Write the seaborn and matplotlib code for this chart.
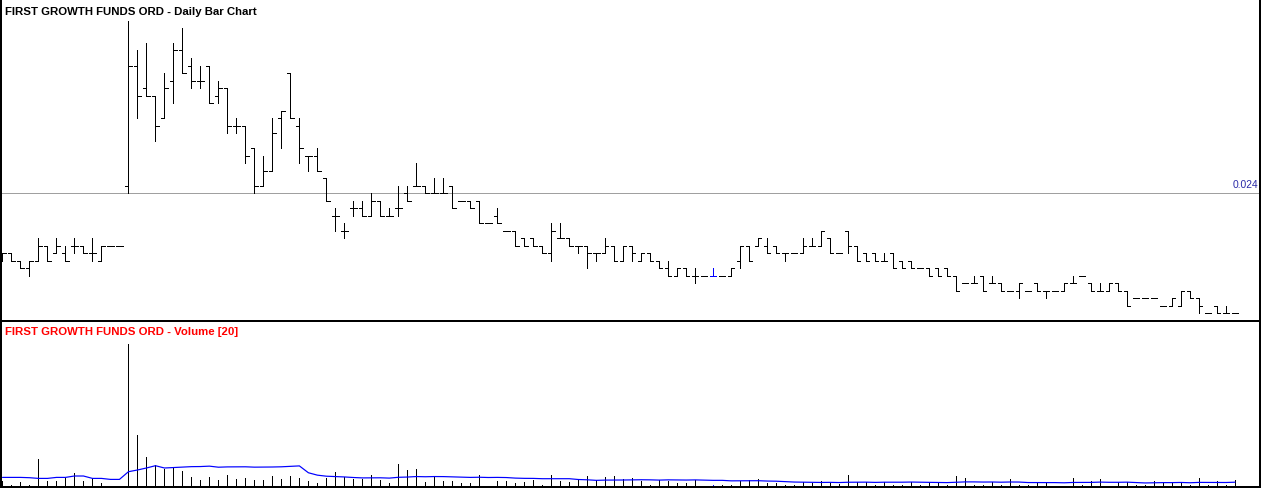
import numpy as np
import pandas as pd
import matplotlib
matplotlib.use('Agg')
import matplotlib.pyplot as plt
import seaborn as sns

# Daily OHLC prices
open_ = [0.0195, 0.020, 0.0195, 0.019, 0.0195, 0.0205, 0.020, 0.020, 0.0205, 0.0205,
         0.020, 0.0195, 0.0205, 0.0205, 0.0245, 0.0325, 0.031, 0.0305, 0.029, 0.0315,
         0.0335, 0.0325, 0.0315, 0.0325, 0.0305, 0.031, 0.0285, 0.0285, 0.027, 0.0245,
         0.0255, 0.029, 0.032, 0.0285, 0.0265, 0.0265, 0.025, 0.0225, 0.0215, 0.023,
         0.023, 0.0225, 0.0235, 0.0225, 0.023, 0.024, 0.0245, 0.0245, 0.024, 0.024,
         0.0245, 0.0235, 0.0235, 0.0235, 0.022, 0.0225, 0.0215, 0.0215, 0.021, 0.021,
         0.0205, 0.020, 0.021, 0.021, 0.0205, 0.0205, 0.020, 0.020, 0.0205, 0.0195,
         0.0205, 0.0195, 0.020, 0.0195, 0.019, 0.0185, 0.019, 0.0185, 0.0185, 0.0185,
         0.0185, 0.0185, 0.0195, 0.0205, 0.0205, 0.0205, 0.0205, 0.020, 0.020, 0.020,
         0.0205, 0.0205, 0.021, 0.020, 0.0215, 0.0205, 0.020, 0.020, 0.0195, 0.020,
         0.0195, 0.0195, 0.019, 0.019, 0.019, 0.019, 0.0185, 0.018, 0.018, 0.0185,
         0.018, 0.018, 0.0175, 0.0175, 0.0175, 0.018, 0.0175, 0.0175, 0.0175, 0.018,
         0.0185, 0.018, 0.0175, 0.0175, 0.018, 0.0175, 0.017, 0.017, 0.017, 0.0165,
         0.0165, 0.0165, 0.0175, 0.017, 0.016, 0.0165, 0.016, 0.016]
high = [0.020, 0.020, 0.0195, 0.0195, 0.021, 0.0205, 0.021, 0.0205, 0.021, 0.0205,
        0.021, 0.0205, 0.0205, 0.0205, 0.0355, 0.0335, 0.034, 0.0305, 0.032, 0.034,
        0.035, 0.033, 0.0325, 0.0325, 0.0315, 0.031, 0.029, 0.0285, 0.027, 0.0265,
        0.029, 0.0295, 0.032, 0.029, 0.0265, 0.027, 0.025, 0.023, 0.022, 0.0235,
        0.0235, 0.024, 0.0235, 0.023, 0.0245, 0.0245, 0.026, 0.0245, 0.025, 0.025,
        0.0245, 0.0235, 0.0235, 0.0235, 0.022, 0.023, 0.0215, 0.0215, 0.021, 0.021,
        0.0205, 0.022, 0.022, 0.021, 0.0205, 0.0205, 0.020, 0.021, 0.0205, 0.0205,
        0.0205, 0.020, 0.020, 0.0195, 0.0195, 0.019, 0.019, 0.019, 0.0185, 0.019,
        0.0185, 0.019, 0.0205, 0.0205, 0.021, 0.021, 0.0205, 0.020, 0.020, 0.021,
        0.021, 0.0215, 0.021, 0.020, 0.0215, 0.0205, 0.020, 0.020, 0.020, 0.020,
        0.0195, 0.0195, 0.019, 0.019, 0.019, 0.019, 0.0185, 0.018, 0.0185, 0.0185,
        0.0185, 0.018, 0.0175, 0.018, 0.0175, 0.018, 0.0175, 0.0175, 0.018, 0.0185,
        0.0185, 0.018, 0.018, 0.018, 0.018, 0.0175, 0.017, 0.017, 0.017, 0.0165,
        0.017, 0.0175, 0.0175, 0.017, 0.016, 0.0165, 0.0165, 0.016]
low = [0.0195, 0.0195, 0.019, 0.0185, 0.0195, 0.0195, 0.020, 0.0195, 0.020, 0.020,
       0.0195, 0.0195, 0.0205, 0.0205, 0.024, 0.029, 0.0305, 0.0275, 0.029, 0.030,
       0.032, 0.031, 0.031, 0.030, 0.030, 0.028, 0.028, 0.026, 0.024, 0.0245,
       0.0255, 0.027, 0.029, 0.026, 0.0255, 0.0255, 0.0235, 0.0215, 0.021, 0.0225,
       0.0225, 0.0225, 0.0225, 0.0225, 0.0225, 0.0235, 0.0245, 0.024, 0.024, 0.024,
       0.023, 0.0235, 0.023, 0.022, 0.022, 0.022, 0.0215, 0.0205, 0.0205, 0.0205,
       0.020, 0.0195, 0.021, 0.0205, 0.020, 0.019, 0.0195, 0.020, 0.0195, 0.0195,
       0.0195, 0.0195, 0.0195, 0.019, 0.0185, 0.0185, 0.0185, 0.018, 0.0185, 0.0185,
       0.0185, 0.0185, 0.019, 0.0195, 0.0205, 0.020, 0.020, 0.0195, 0.020, 0.020,
       0.0205, 0.0205, 0.020, 0.020, 0.020, 0.0195, 0.0195, 0.0195, 0.0195, 0.019,
       0.019, 0.019, 0.019, 0.0185, 0.0185, 0.0185, 0.0175, 0.018, 0.018, 0.0175,
       0.018, 0.0175, 0.0175, 0.017, 0.0175, 0.0175, 0.017, 0.0175, 0.0175, 0.018,
       0.0185, 0.0175, 0.0175, 0.0175, 0.0175, 0.0165, 0.017, 0.017, 0.017, 0.0165,
       0.0165, 0.0165, 0.017, 0.016, 0.016, 0.016, 0.016, 0.016]
close = [0.020, 0.0195, 0.019, 0.0195, 0.0205, 0.0195, 0.0205, 0.0195, 0.0205, 0.020,
         0.020, 0.0205, 0.0205, 0.0205, 0.0325, 0.0305, 0.0305, 0.0285, 0.031, 0.0335,
         0.032, 0.0315, 0.0315, 0.030, 0.031, 0.0285, 0.0285, 0.0265, 0.0245, 0.0255,
         0.028, 0.0295, 0.029, 0.027, 0.0265, 0.0255, 0.0235, 0.0225, 0.0215, 0.023,
         0.0225, 0.0235, 0.0225, 0.0225, 0.023, 0.0235, 0.0245, 0.024, 0.024, 0.024,
         0.023, 0.0235, 0.023, 0.022, 0.022, 0.022, 0.0215, 0.0205, 0.0205, 0.0205,
         0.020, 0.0215, 0.021, 0.0205, 0.0205, 0.020, 0.020, 0.0205, 0.0195, 0.0205,
         0.020, 0.020, 0.0195, 0.019, 0.0185, 0.019, 0.0185, 0.0185, 0.0185, 0.0185,
         0.0185, 0.019, 0.0205, 0.0195, 0.021, 0.020, 0.020, 0.020, 0.020, 0.0205,
         0.0205, 0.0215, 0.020, 0.020, 0.0205, 0.0195, 0.0195, 0.0195, 0.0195, 0.019,
         0.019, 0.019, 0.019, 0.0185, 0.0185, 0.0185, 0.0175, 0.018, 0.018, 0.0175,
         0.018, 0.0175, 0.0175, 0.018, 0.0175, 0.0175, 0.0175, 0.0175, 0.018, 0.018,
         0.0185, 0.0175, 0.0175, 0.018, 0.0175, 0.0165, 0.017, 0.017, 0.017, 0.0165,
         0.017, 0.0175, 0.017, 0.0165, 0.016, 0.016, 0.016, 0.016]

# Daily volume (thousands)
volume = [100, 20, 80, 20, 540, 100, 100, 160, 260, 100,
          160, 60, 0, 0, 2840, 1020, 580, 420, 340, 360,
          300, 180, 120, 180, 120, 220, 140, 160, 120, 120,
          200, 140, 200, 160, 100, 60, 160, 280, 180, 140,
          140, 220, 120, 60, 440, 320, 340, 80, 200, 100,
          100, 60, 60, 220, 0, 100, 100, 60, 80, 120,
          20, 220, 100, 80, 120, 200, 120, 180, 200, 140,
          160, 100, 20, 120, 100, 60, 60, 120, 0, 20,
          20, 20, 100, 120, 140, 60, 60, 20, 20, 80,
          60, 100, 60, 40, 220, 80, 80, 20, 80, 20,
          20, 80, 20, 80, 80, 20, 200, 160, 20, 20,
          80, 20, 140, 20, 20, 80, 80, 0, 0, 160,
          20, 100, 140, 0, 80, 80, 20, 20, 100, 80,
          80, 80, 20, 160, 20, 100, 20, 120]

# 20-day volume average for the first days (window reaches before the chart start)
vol_ma_head = [166, 166, 166, 160, 146, 146, 166, 166, 194, 194,
               146, 146, 126, 126, 280, 314, 354, 400, 354]

ref_price = 0.024
ref_label = '0.024'
highlight_day = 79

df = pd.DataFrame({'open': open_, 'high': high, 'low': low, 'close': close, 'volume': volume})
df['day'] = np.arange(len(df))
df['vol_ma'] = df['volume'].rolling(20).mean()
df.loc[:len(vol_ma_head) - 1, 'vol_ma'] = vol_ma_head

sns.set_theme(style="white")
plt.rcParams['font.family'] = ['Liberation Sans', 'DejaVu Sans']

W, H = 1262, 489
fig = plt.figure(figsize=(W / 100, H / 100), dpi=100)
ax = fig.add_axes([0.5 / W, (H - 322) / H, 1259.5 / W, 322 / H])
axv = fig.add_axes([0.5 / W, 1 / H, 1259.5 / W, 165 / H])

colors = ['blue' if d == highlight_day else 'black' for d in df['day']]
px = 72 / 100
tick = 0.36

# price bars
ax.axhline(ref_price, color='#a0a0a0', lw=px * 1.0, antialiased=False, zorder=1)
ax.vlines(df['day'], df['low'], df['high'], colors=colors, lw=px, antialiased=False, zorder=3)
ax.hlines(df['open'], df['day'] - tick, df['day'], colors=colors, lw=px, antialiased=False, zorder=3)
ax.hlines(df['close'], df['day'], df['day'] + tick, colors=colors, lw=px, antialiased=False, zorder=3)

ax.set_xlim(-2 / 9, 1258 / 9)
ax.set_ylim(ref_price - 128 / 15000, ref_price + 194 / 15000)
ax.text(1258 / 1259.5, ref_price + 9 / 15000, ref_label, transform=ax.get_yaxis_transform(),
        ha='right', va='center', fontsize=7.4, color='#2b2ba8')
ax.text(5 / W, 1 - 12 / 322, 'FIRST GROWTH FUNDS ORD - Daily Bar Chart', transform=ax.transAxes,
        ha='left', va='center', fontsize=8.2, fontweight='bold', color='black')

# volume
axv.vlines(df['day'], 0, df['volume'], colors=colors, lw=px, antialiased=False)
sns.lineplot(data=df, x='day', y='vol_ma', ax=axv, color='blue', lw=px * 1.2, legend=False)
axv.set_xlim(-2 / 9, 1258 / 9)
axv.set_ylim(-1.3 * 20, 163.7 * 20)
axv.text(5 / W, 1 - 9 / 165, 'FIRST GROWTH FUNDS ORD - Volume [20]', transform=axv.transAxes,
         ha='left', va='center', fontsize=8.2, fontweight='bold', color='red')

for a in (ax, axv):
    a.set_xticks([])
    a.set_yticks([])
    a.set_xlabel('')
    a.set_ylabel('')
    a.set_facecolor('white')
    for s in ['left', 'right', 'bottom']:
        a.spines[s].set_visible(True)
        a.spines[s].set_color('black')
        a.spines[s].set_linewidth(px * 2)
    a.spines['top'].set_visible(False)

fig.savefig('out.png', dpi=100, facecolor='white')
